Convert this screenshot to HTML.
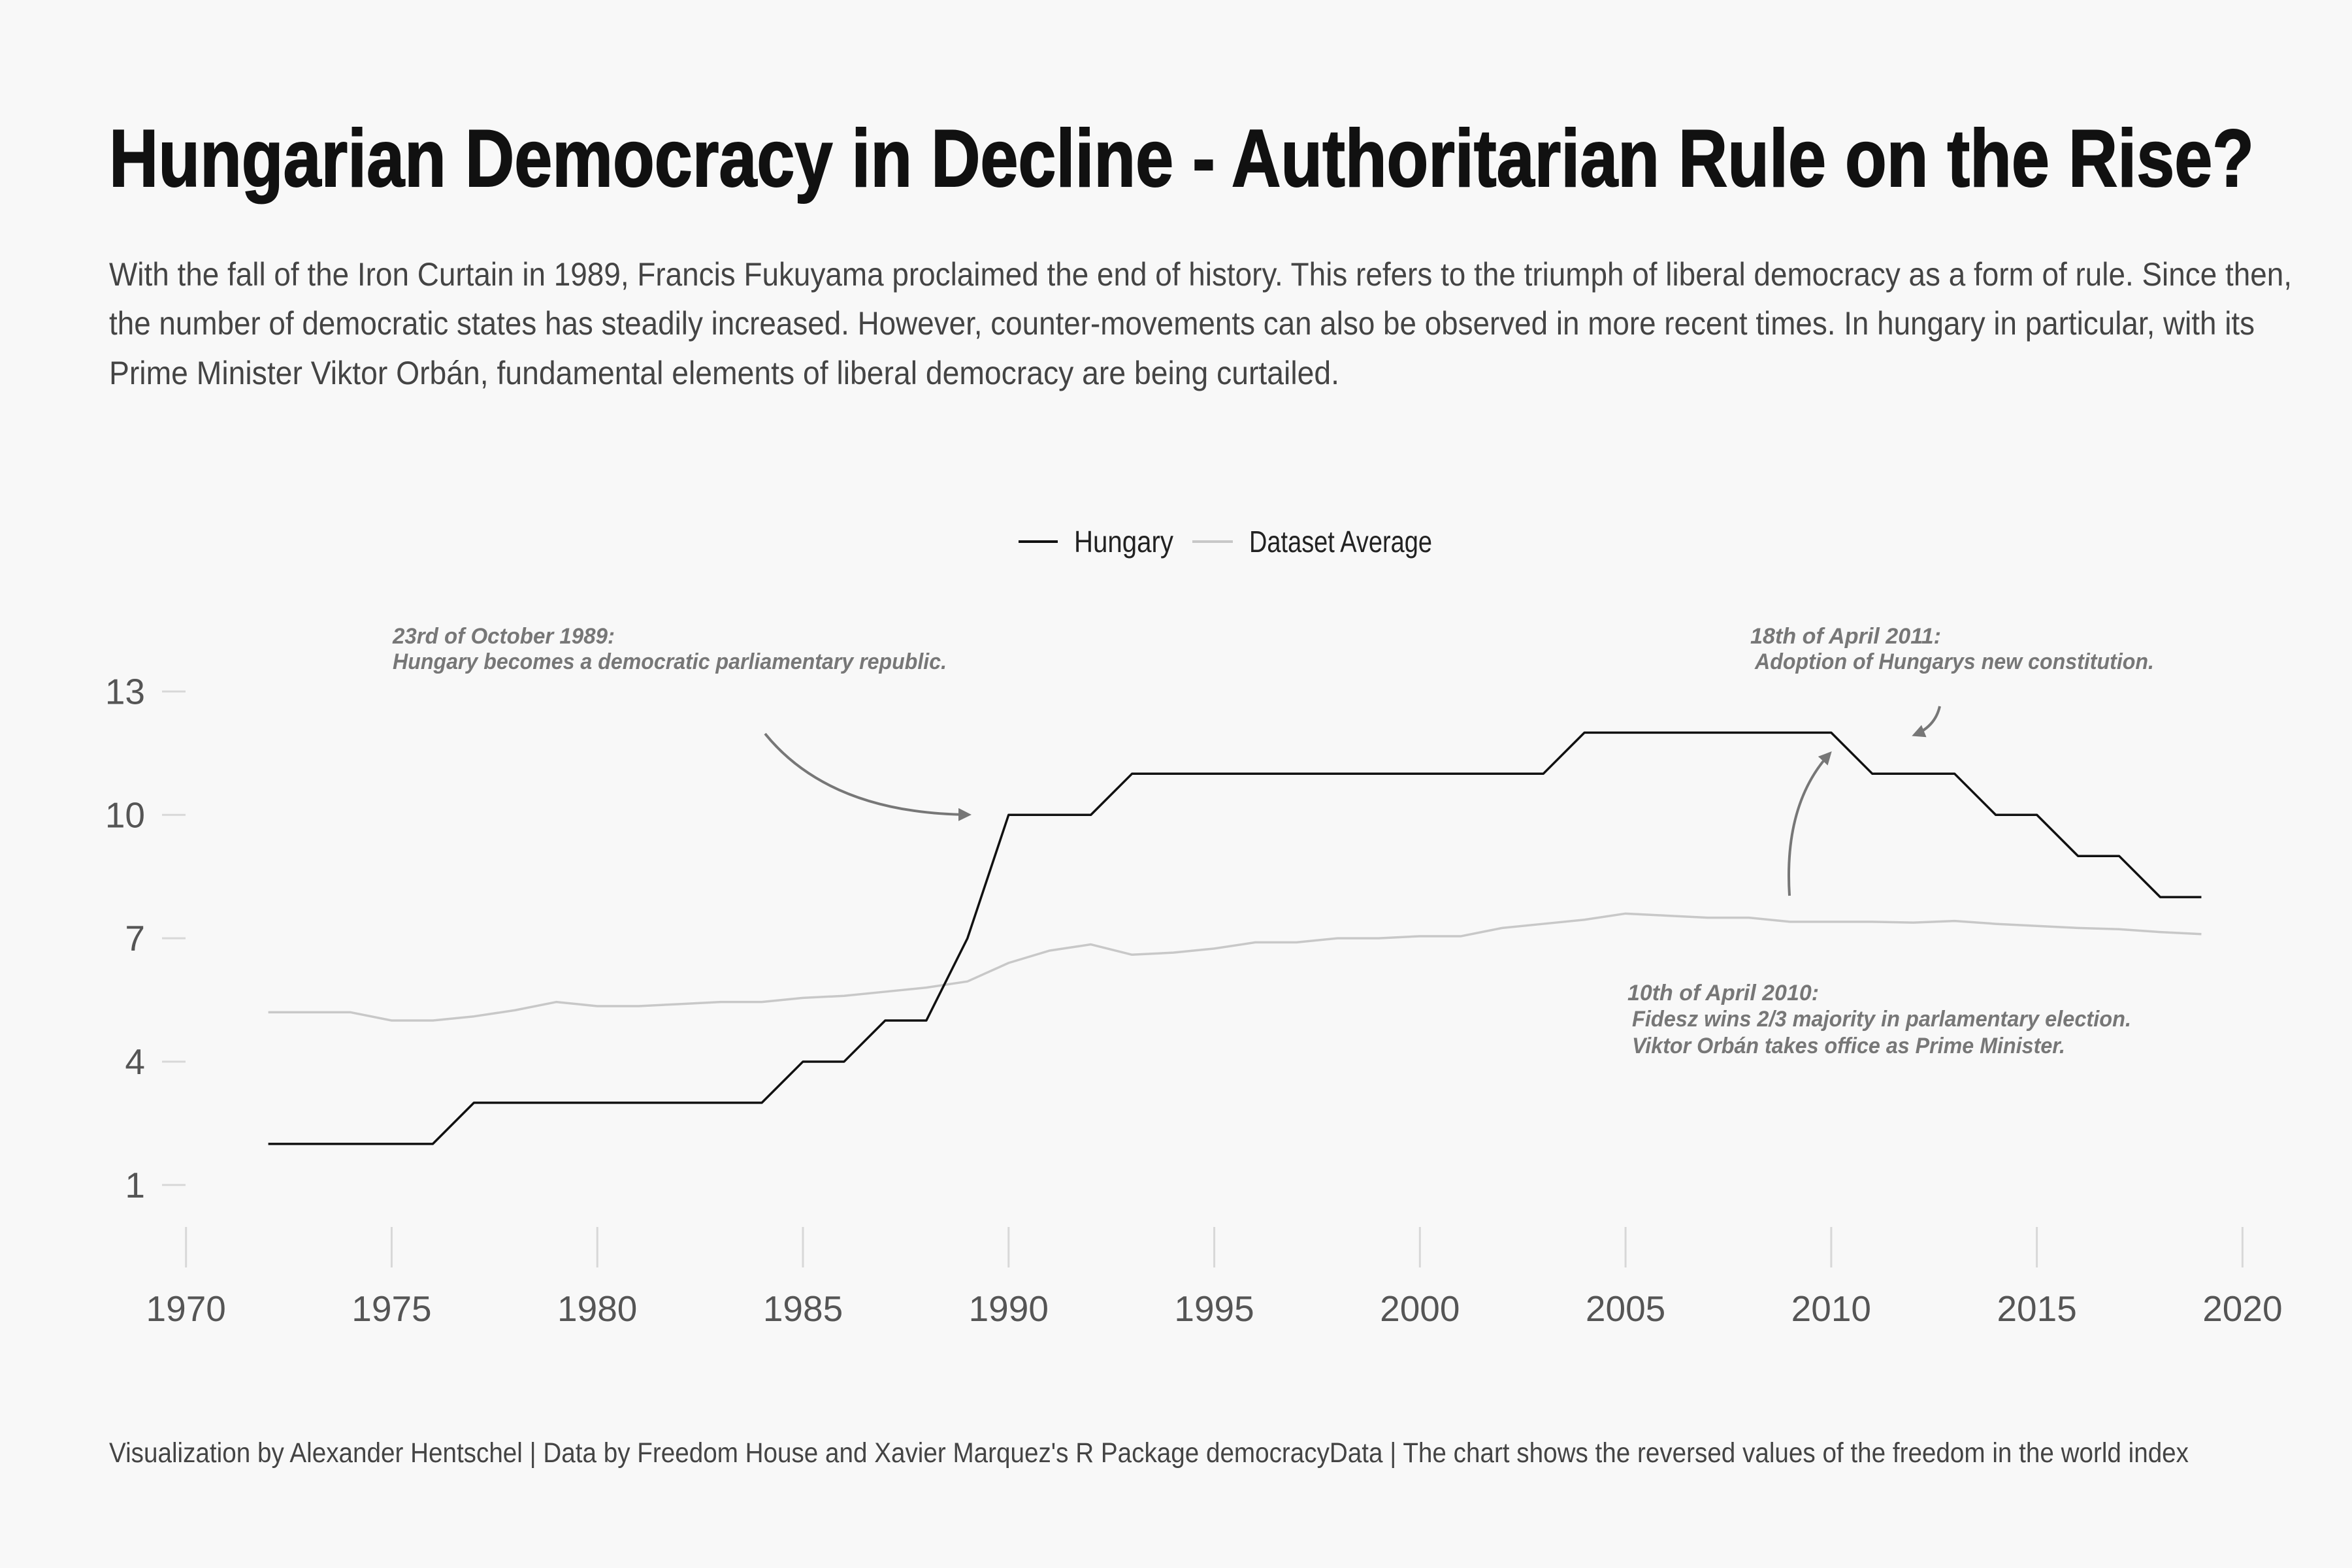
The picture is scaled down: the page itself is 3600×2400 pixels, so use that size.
<!DOCTYPE html>
<html><head><meta charset="utf-8"><style>
html,body{margin:0;padding:0;background:#f8f8f8;}
svg{display:block;}
text{font-family:"Liberation Sans Narrow","Liberation Sans",sans-serif;}
</style></head><body>
<svg id="chart" width="3600" height="2400" viewBox="0 0 3600 2400" xmlns="http://www.w3.org/2000/svg">
<rect width="3600" height="2400" fill="#f8f8f8"/>
<text x="167" y="285" font-size="124" font-weight="bold" fill="#111" stroke="#111" stroke-width="2" textLength="3283" lengthAdjust="spacingAndGlyphs">Hungarian Democracy in Decline - Authoritarian Rule on the Rise?</text>
<g fill="#444" font-size="50">
<text x="167" y="437" textLength="3341" lengthAdjust="spacingAndGlyphs">With the fall of the Iron Curtain in 1989, Francis Fukuyama proclaimed the end of history. This refers to the triumph of liberal democracy as a form of rule. Since then,</text>
<text x="167" y="512" textLength="3284" lengthAdjust="spacingAndGlyphs">the number of democratic states has steadily increased. However, counter-movements can also be observed in more recent times. In hungary in particular, with its</text>
<text x="167" y="588" textLength="1883" lengthAdjust="spacingAndGlyphs">Prime Minister Viktor Orbán, fundamental elements of liberal democracy are being curtailed.</text>
</g>
<g font-size="46" fill="#222">
<line x1="1559" y1="829" x2="1619" y2="829" stroke="#111" stroke-width="4"/>
<text x="1644" y="845" textLength="152" lengthAdjust="spacingAndGlyphs">Hungary</text>
<line x1="1825" y1="829" x2="1887" y2="829" stroke="#c8c8c8" stroke-width="4"/>
<text x="1912" y="845" textLength="280" lengthAdjust="spacingAndGlyphs">Dataset Average</text>
</g>
<g id="axes"></g>
<g id="series"></g>
<g fill="#777" font-size="34" font-weight="bold" font-style="italic">
<text><tspan x="601" y="985" textLength="340" lengthAdjust="spacingAndGlyphs">23rd of October 1989:</tspan><tspan x="601" y="1024" textLength="848" lengthAdjust="spacingAndGlyphs">Hungary becomes a democratic parliamentary republic.</tspan></text>
<text><tspan x="2679" y="985" textLength="292" lengthAdjust="spacingAndGlyphs">18th of April 2011:</tspan><tspan x="2686" y="1024" textLength="611" lengthAdjust="spacingAndGlyphs">Adoption of Hungarys new constitution.</tspan></text>
<text><tspan x="2491" y="1531" textLength="293" lengthAdjust="spacingAndGlyphs">10th of April 2010:</tspan><tspan x="2498" y="1571" textLength="764" lengthAdjust="spacingAndGlyphs">Fidesz wins 2/3 majority in parlamentary election.</tspan><tspan x="2498" y="1612" textLength="663" lengthAdjust="spacingAndGlyphs">Viktor Orbán takes office as Prime Minister.</tspan></text>
</g>
<defs><marker id="ah" viewBox="0 0 10 10" refX="8" refY="5" markerWidth="5" markerHeight="5" orient="auto"><path d="M0,0L10,5L0,10z" fill="#777"/></marker></defs>
<g fill="none" stroke="#777" stroke-width="4">
<path d="M1171,1123 Q1270,1245 1483,1247" marker-end="url(#ah)"/>
<path d="M2739,1371 Q2730,1230 2801,1153" marker-end="url(#ah)"/>
<path d="M2969,1081 Q2962,1112 2930,1125" marker-end="url(#ah)"/>
</g>
<text x="167" y="2238" font-size="43" fill="#444" textLength="3183" lengthAdjust="spacingAndGlyphs">Visualization by Alexander Hentschel | Data by Freedom House and Xavier Marquez's R Package democracyData | The chart shows the reversed values of the freedom in the world index</text>
</svg>
<script>
const years=[1972,1973,1974,1975,1976,1977,1978,1979,1980,1981,1982,1983,1984,1985,1986,1987,1988,1989,1990,1991,1992,1993,1994,1995,1996,1997,1998,1999,2000,2001,2002,2003,2004,2005,2006,2007,2008,2009,2010,2011,2012,2013,2014,2015,2016,2017,2018,2019];
const hungary=[2,2,2,2,2,3,3,3,3,3,3,3,3,4,4,5,5,7,10,10,10,11,11,11,11,11,11,11,11,11,11,11,12,12,12,12,12,12,12,11,11,11,10,10,9,9,8,8];
const average=[5.2,5.2,5.2,5.0,5.0,5.1,5.25,5.45,5.35,5.35,5.4,5.45,5.45,5.55,5.6,5.7,5.8,5.95,6.4,6.7,6.85,6.6,6.65,6.75,6.9,6.9,7.0,7.0,7.05,7.05,7.25,7.35,7.45,7.6,7.55,7.5,7.5,7.4,7.4,7.4,7.38,7.42,7.35,7.3,7.25,7.22,7.15,7.1];
const xTicks=[1970,1975,1980,1985,1990,1995,2000,2005,2010,2015,2020];
const yTicks=[1,4,7,10,13];
const NS="http://www.w3.org/2000/svg";
const x=v=>284.7+(v-1970)*(3432.4-284.7)/50;
const y=v=>1813.8-(v-1)*(1813.8-1058.4)/12;
const axes=document.getElementById('axes');
function mk(tag,attrs,parent){const e=document.createElementNS(NS,tag);for(const k in attrs)e.setAttribute(k,attrs[k]);parent.appendChild(e);return e;}
yTicks.forEach(t=>{
  const l=mk('line',{x1:248,x2:284,y1:y(t),y2:y(t),stroke:'#d8d8d8','stroke-width':3},axes);
  
  
  const tx=mk('text',{x:222,y:y(t)+19,'text-anchor':'end','font-size':55,fill:'#555'},axes);
  tx.textContent=t;
  
  
});
xTicks.forEach(t=>{
  const l=mk('line',{x1:x(t),x2:x(t),y1:1878,y2:1940,stroke:'#d8d8d8','stroke-width':3},axes);
  
  
  const tx=mk('text',{x:x(t),y:2022,'text-anchor':'middle','font-size':55,fill:'#555'},axes);
  tx.textContent=t;
  
  
});
const series=document.getElementById('series');
const pa=mk('polyline',{points:years.map((yr,i)=>x(yr)+','+y(average[i])).join(' '),fill:'none',stroke:'#c8c8c8','stroke-width':3.5,'stroke-linejoin':'round'},series);


const ph=mk('polyline',{points:years.map((yr,i)=>x(yr)+','+y(hungary[i])).join(' '),fill:'none',stroke:'#111','stroke-width':3.5,'stroke-linejoin':'round'},series);


</script>
</body></html>
